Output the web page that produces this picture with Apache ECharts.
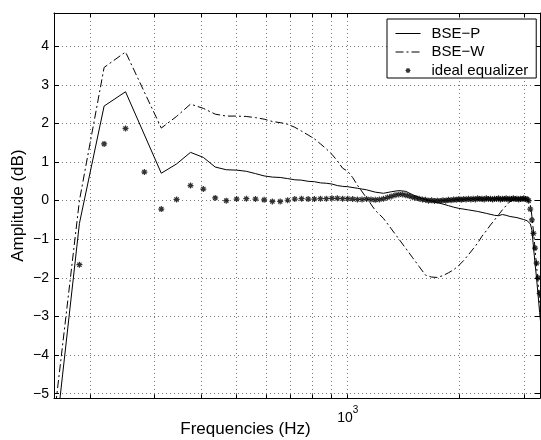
<!DOCTYPE html>
<html><head><meta charset="utf-8">
<script src="https://cdn.jsdelivr.net/npm/echarts@6/dist/echarts.min.js"></script>
<style>html,body{margin:0;padding:0;background:#fff}#c{width:541px;height:440px}</style>
</head><body><div id="c"></div>
<script>
// ---- data ----
const yTicks = [-5, -4, -3, -2, -1, 0, 1, 2, 3, 4];
const xTicks = [200, 300, 400, 500, 600, 700, 800, 900, 1000, 2000, 3000];
const xLabelTicks = [1000];

const freqP = [156.25, 187.5, 218.75, 250, 312.5, 343.75, 375, 406.25, 437.5, 468.75, 500, 531.25, 562.5, 593.75, 625, 656.25, 687.5, 718.75, 750, 781.25, 812.5, 843.75, 875, 906.25, 937.5, 968.75, 1000, 1062.5, 1125, 1187.5, 1250, 1312.5, 1375, 1437.5, 1500, 1562.5, 1625, 1687.5, 1750, 1812.5, 1875, 1937.5, 2000, 2125, 2250, 2375, 2500, 2562.5, 2625, 2687.5, 2750, 2875, 3000, 3062.5, 3125, 3156.25, 3187.5, 3218.75, 3250, 3281.25, 3312.5, 3343.75];
const bseP = [-7.4, -0.59, 2.45, 2.82, 0.71, 0.95, 1.25, 1.12, 0.87, 0.80, 0.79, 0.76, 0.70, 0.64, 0.61, 0.60, 0.57, 0.54, 0.53, 0.50, 0.49, 0.46, 0.45, 0.43, 0.39, 0.37, 0.36, 0.32, 0.28, 0.22, 0.19, 0.23, 0.26, 0.24, 0.15, 0.08, 0.03, -0.01, -0.05, -0.09, -0.13, -0.17, -0.20, -0.24, -0.28, -0.33, -0.38, -0.39, -0.36, -0.38, -0.41, -0.44, -0.49, -0.52, -0.60, -0.76, -1.20, -1.62, -2.02, -2.45, -2.90, -3.30];

const freqW = [156.25, 187.5, 218.75, 250, 312.5, 343.75, 375, 406.25, 437.5, 468.75, 500, 531.25, 562.5, 593.75, 625, 656.25, 687.5, 718.75, 750, 781.25, 812.5, 843.75, 875, 906.25, 937.5, 968.75, 1000, 1031.25, 1062.5, 1125, 1187.5, 1250, 1312.5, 1375, 1437.5, 1500, 1562.5, 1625, 1687.5, 1750, 1812.5, 1875, 1937.5, 2000, 2062.5, 2125, 2187.5, 2250, 2312.5, 2375, 2437.5, 2500, 2562.5, 2625, 2687.5, 2750, 2812.5, 2875, 2937.5, 3000, 3062.5, 3093.75, 3125, 3156.25, 3187.5, 3218.75, 3250, 3281.25, 3312.5, 3343.75];
const bseW = [-6.5, 0.0, 3.45, 3.85, 1.88, 2.18, 2.50, 2.39, 2.24, 2.19, 2.19, 2.18, 2.15, 2.11, 2.05, 2.02, 1.98, 1.90, 1.80, 1.70, 1.60, 1.47, 1.34, 1.20, 1.03, 0.84, 0.76, 0.60, 0.40, 0.07, -0.25, -0.46, -0.73, -0.99, -1.24, -1.48, -1.71, -1.93, -1.98, -1.99, -1.94, -1.87, -1.79, -1.68, -1.55, -1.40, -1.25, -1.10, -0.92, -0.78, -0.63, -0.50, -0.37, -0.24, -0.13, -0.03, 0.02, 0.03, 0.04, 0.04, 0.03, 0.02, -0.10, -0.40, -0.80, -1.25, -1.70, -2.15, -2.60, -3.00];

const freqEq = [187.5, 218.75, 250, 281.25, 312.5, 343.75, 375, 406.25, 437.5, 468.75, 500, 531.25, 562.5, 593.75, 625, 656.25, 687.5, 718.75, 750, 781.25, 812.5, 843.75, 875, 906.25, 937.5, 968.75, 1000, 1031.25, 1062.5, 1093.75, 1125, 1156.25, 1187.5, 1218.75, 1250, 1281.25, 1312.5, 1343.75, 1375, 1406.25, 1437.5, 1468.75, 1500, 1531.25, 1562.5, 1593.75, 1625, 1656.25, 1687.5, 1718.75, 1750, 1781.25, 1812.5, 1843.75, 1875, 1906.25, 1937.5, 1968.75, 2000, 2031.25, 2062.5, 2093.75, 2125, 2156.25, 2187.5, 2218.75, 2250, 2281.25, 2312.5, 2343.75, 2375, 2406.25, 2437.5, 2468.75, 2500, 2531.25, 2562.5, 2593.75, 2625, 2656.25, 2687.5, 2718.75, 2750, 2781.25, 2812.5, 2843.75, 2875, 2906.25, 2937.5, 2968.75, 3000, 3031.25, 3062.5, 3093.75, 3125, 3156.25, 3187.5, 3218.75, 3250, 3281.25, 3312.5];
const idealEq = [-1.66, 1.47, 1.87, 0.74, -0.22, 0.03, 0.39, 0.30, 0.07, 0.00, 0.04, 0.05, 0.04, 0.02, -0.02, -0.02, 0.01, 0.04, 0.05, 0.04, 0.04, 0.05, 0.05, 0.06, 0.06, 0.05, 0.05, 0.04, 0.03, 0.03, 0.04, 0.03, 0.02, 0.03, 0.05, 0.08, 0.11, 0.14, 0.16, 0.16, 0.14, 0.12, 0.09, 0.07, 0.05, 0.03, 0.02, 0.00, 0.01, -0.01, 0.00, -0.01, 0.01, 0.00, 0.02, 0.01, 0.03, 0.02, 0.04, 0.02, 0.04, 0.03, 0.05, 0.03, 0.05, 0.03, 0.06, 0.04, 0.05, 0.03, 0.06, 0.04, 0.05, 0.03, 0.05, 0.04, 0.06, 0.03, 0.05, 0.04, 0.06, 0.03, 0.05, 0.04, 0.06, 0.04, 0.05, 0.03, 0.05, 0.04, 0.06, 0.04, 0.04, 0.00, -0.22, -0.50, -0.85, -1.23, -1.62, -2.00, -2.40];

// ---- chart ----
const zip = (xs, ys) => xs.map((x, i) => [x, ys[i]]);
const FONT = 'Liberation Sans, Arial, Helvetica, sans-serif';
const chart = echarts.init(document.getElementById('c'), null, {renderer: 'canvas'});
const gridLine = {show: true, lineStyle: {color: '#777', width: 1, type: [1, 3]}};
const axisLine = {show: true, onZero: false, lineStyle: {color: '#000', width: 1}};
const star = 'path://M5,0L5,10M0,5L10,5M1.5,1.5L8.5,8.5M1.5,8.5L8.5,1.5';
const starIcon = 'path://M0,0M24,24M12,7L12,17M7,12L17,12M8.5,8.5L15.5,15.5M8.5,15.5L15.5,8.5';
const dashDot = [8, 3, 2, 3];
const minus = v => String(v).replace('-', '\u2212');

chart.setOption({
  animation: false,
  backgroundColor: '#fff',
  textStyle: {fontFamily: FONT, color: '#000'},
  grid: {left: 54, right: 1, top: 13, bottom: 41.7, containLabel: false, outerBoundsMode: 'none'},
  legend: {
    orient: 'vertical', left: 387, top: 19,
    padding: [7, 8, 0, 8], itemGap: 3.5, itemWidth: 25, itemHeight: 12,
    borderColor: '#000', borderWidth: 1, backgroundColor: '#fff',
    textStyle: {fontSize: 15, color: '#000', fontFamily: FONT, lineHeight: 15, padding: [0, 0, 0, 6]},
    data: [
      {name: 'BSE\u2212P', itemStyle: {opacity: 0}, lineStyle: {width: 1}},
      {name: 'BSE\u2212W', itemStyle: {opacity: 0}, lineStyle: {type: dashDot, width: 1}},
      {name: 'ideal equalizer', icon: starIcon, itemStyle: {color: '#000', borderColor: '#000', borderWidth: 1.2}}
    ]
  },
  xAxis: [{
    type: 'log', logBase: 10, min: 160, max: 3320, position: 'bottom',
    axisLine: axisLine,
    axisTick: {show: true, inside: true, length: 4, customValues: xTicks, lineStyle: {color: '#000'}},
    minorTick: {show: false},
    axisLabel: {customValues: xLabelTicks, margin: 7, formatter: () => '{b|10}{s|3}',
      rich: {b: {fontSize: 14, fontFamily: FONT, color: '#000', verticalAlign: 'bottom'},
             s: {fontSize: 10, fontFamily: FONT, color: '#000', verticalAlign: 'bottom', padding: [0, 0, 10, 0]}}},
    splitLine: gridLine,
    name: 'Frequencies (Hz)', nameLocation: 'middle', nameGap: 23, nameMoveOverlap: false,
    nameTextStyle: {fontSize: 17, color: '#000', fontFamily: FONT, padding: [0, 103, 0, 0]}
  }, {
    type: 'log', logBase: 10, min: 160, max: 3320, position: 'top',
    axisLine: axisLine,
    axisTick: {show: true, inside: true, length: 4, customValues: xTicks, lineStyle: {color: '#000'}},
    axisLabel: {show: false}, splitLine: {show: false}
  }],
  yAxis: [{
    type: 'value', min: -5.12, max: 4.86, position: 'left',
    axisLine: axisLine,
    axisTick: {show: true, inside: true, length: 5, customValues: yTicks, lineStyle: {color: '#000'}},
    axisLabel: {customValues: yTicks, formatter: minus, fontSize: 14, color: '#000', margin: 5, fontFamily: FONT},
    splitLine: gridLine,
    name: 'Amplitude (dB)', nameLocation: 'middle', nameGap: 27, nameMoveOverlap: false,
    nameTextStyle: {fontSize: 17, color: '#000', fontFamily: FONT}
  }, {
    type: 'value', min: -5.12, max: 4.86, position: 'right',
    axisLine: axisLine,
    axisTick: {show: true, inside: true, length: 5, customValues: yTicks, lineStyle: {color: '#000'}},
    axisLabel: {show: false}, splitLine: {show: false}
  }],
  series: [{
    name: 'BSE\u2212P', type: 'line', data: zip(freqP, bseP), symbol: 'none', clip: true,
    lineStyle: {color: '#000', width: 1}, itemStyle: {color: '#000'}
  }, {
    name: 'BSE\u2212W', type: 'line', data: zip(freqW, bseW), symbol: 'none', clip: true,
    lineStyle: {color: '#000', width: 1, type: dashDot}, itemStyle: {color: '#000'}
  }, {
    name: 'ideal equalizer', type: 'scatter', data: zip(freqEq, idealEq), symbol: star, symbolSize: 6, clip: true,
    itemStyle: {color: '#000', borderColor: '#000', borderWidth: 1.2}
  }]
});
</script>
</body></html>
